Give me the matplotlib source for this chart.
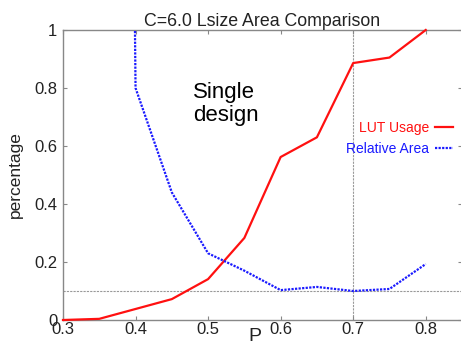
import matplotlib
matplotlib.use('Agg')
import matplotlib.pyplot as plt

plt.rcParams['font.family'] = ['Liberation Sans', 'DejaVu Sans']

# data
p_lut = [0.3, 0.35, 0.4, 0.45, 0.5, 0.55, 0.6, 0.65, 0.7, 0.75, 0.8]
lut_usage = [0.0, 0.004, 0.038, 0.072, 0.141, 0.283, 0.562, 0.63, 0.886, 0.905, 1.0]

p_area = [0.398, 0.4, 0.45, 0.5, 0.55, 0.6, 0.65, 0.7, 0.75, 0.8]
rel_area = [1.3, 0.80, 0.44, 0.23, 0.17, 0.103, 0.114, 0.10, 0.107, 0.193]

x_ticks = [0.3, 0.4, 0.5, 0.6, 0.7, 0.8]
y_ticks = [0, 0.2, 0.4, 0.6, 0.8, 1]
y_tick_labels = ['0', '0.2', '0.4', '0.6', '0.8', '1']

fig = plt.figure(figsize=(4.61, 3.44), dpi=100)
ax = fig.add_axes([63 / 461, 1 - 320 / 344, 399 / 461, 290 / 344])

# reference lines
ax.axhline(0.1, color='#999999', linestyle=(0, (2, 1)), linewidth=0.8, zorder=1)
ax.axvline(0.7, color='#999999', linestyle=(0, (2, 1)), linewidth=0.8, zorder=1)

ax.plot(p_lut, lut_usage, color='#ff1010', linewidth=1.6, label='LUT Usage',
        clip_on=False, zorder=3)
ax.plot(p_area, rel_area, color='#1a1aff', linewidth=1.6, linestyle=(0, (1, 0.6)),
        label='Relative Area', zorder=3)

ax.set_xlim(0.3, 0.85)
ax.set_ylim(0, 1)
ax.set_xticks(x_ticks)
ax.set_xticklabels([f'{v:.1f}' for v in x_ticks])
ax.set_yticks(y_ticks)
ax.set_yticklabels(y_tick_labels)

for s in ax.spines.values():
    s.set_color('#888888')
    s.set_linewidth(1.0)
ax.tick_params(direction='in', length=3, width=0.8, color='#888888',
               top=True, right=True, labelsize=12, labelcolor='#222222')
ax.tick_params(axis='x', pad=1.5)
ax.tick_params(axis='y', pad=4)

ax.set_title('C=6.0 Lsize Area Comparison', fontsize=12.8, color='#222222', pad=3)
ax.set_xlabel('P', fontsize=14, color='#222222')
ax.xaxis.set_label_coords(0.481, -0.028)
ax.set_ylabel('percentage', fontsize=12.5, color='#222222')
ax.yaxis.set_label_coords(-0.1, 0.5)

ax.text(0.479, 0.82, 'Single\ndesign', fontsize=16, ha='left', va='top',
        linespacing=1.1, color='black')

ax.legend(loc='center right', bbox_to_anchor=(0.977, 0.626), frameon=False,
          markerfirst=False, labelcolor='linecolor', fontsize=10,
          handlelength=1.3, handletextpad=0.4, borderpad=0, borderaxespad=0,
          labelspacing=0.55)

fig.savefig('out.png', dpi=100)
